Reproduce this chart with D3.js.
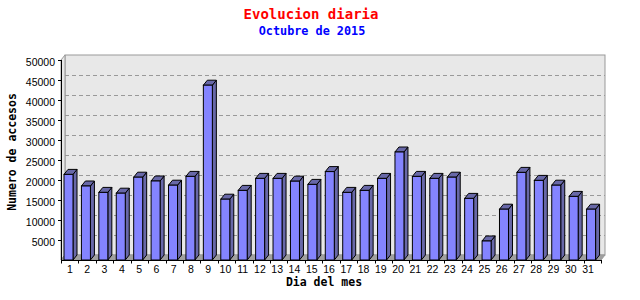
<!DOCTYPE html>
<html><head><meta charset="utf-8">
<script src="https://cdn.jsdelivr.net/npm/d3@7"></script>
<style>body{margin:0;background:#fff}</style>
</head><body>
<svg id="c" width="640" height="300"></svg>
<script>
const days = d3.range(1, 32).map(String);
const visits = [21400,18500,16900,16700,20700,19750,18700,20900,43700,15200,
  17400,20400,20400,19700,18900,22100,16900,17400,20400,27000,
  20900,20400,20700,15400,4750,12700,21900,19900,18700,15900,12700];
const yTicks = [5000,10000,15000,20000,25000,30000,35000,40000,45000,50000];
const title = "Evolucion diaria";
const subtitle = "Octubre de 2015";
const xTitle = "Dia del mes";
const yTitle = "Numero de accesos";

const svg = d3.select("#c");
const L = 61, R = 601, B = 260, T = 60, dx = 4, dy = 5;
const x = d3.scaleBand().domain(days).range([L, R]);
const xl = d3.scalePoint().domain(days).range([70, 588]);
const y = d3.scaleLinear().domain([0, 50000]).range([B, T]);

// titles
svg.append("text").attr("x", 311).attr("y", 19).attr("text-anchor", "middle")
  .attr("font-family", "DejaVu Sans Mono").attr("font-weight", "bold").attr("font-size", 14)
  .attr("fill", "#ff0000").text(title);
svg.append("text").attr("x", 312).attr("y", 35).attr("text-anchor", "middle")
  .attr("font-family", "DejaVu Sans Mono").attr("font-weight", "bold").attr("font-size", 11.8)
  .attr("fill", "#0000ff").text(subtitle);

// back wall
svg.append("rect").attr("x", L + dx).attr("y", T - dy).attr("width", R - L).attr("height", B - T)
  .attr("fill", "#e8e8e8").attr("stroke", "#999").attr("stroke-width", 1);
// left side wall
svg.append("path").attr("d", `M${L},${T}L${L+dx},${T-dy}L${L+dx},${B-dy}L${L},${B}Z`)
  .attr("fill", "#e8e8e8").attr("stroke", "#999");
// floor
svg.append("path").attr("d", `M${L},${B}L${L+dx},${B-dy}L${R+dx},${B-dy}L${R},${B}Z`)
  .attr("fill", "#a0a0a0").attr("stroke", "#999");

// grid lines
svg.append("g").selectAll("line").data(yTicks.filter(t => t < 50000)).join("line")
  .attr("x1", L + dx).attr("x2", R + dx)
  .attr("y1", d => Math.round(y(d) - dy) + 0.5).attr("y2", d => Math.round(y(d) - dy) + 0.5)
  .attr("stroke", "#999").attr("stroke-dasharray", "4,3");

// bars
const fw = 9;
const g = svg.append("g").attr("stroke", "#000").attr("stroke-width", 1).attr("stroke-linejoin", "miter");
days.forEach((d, i) => {
  const x0 = x(d) + 3, x1 = x0 + fw, yt = y(visits[i]);
  g.append("path").attr("d", `M${x1},${yt}L${x1+dx},${yt-dy}L${x1+dx},${B-dy}L${x1},${B}Z`).attr("fill", "#6868a8");
  g.append("path").attr("d", `M${x0},${yt}L${x0+dx},${yt-dy}L${x1+dx},${yt-dy}L${x1},${yt}Z`).attr("fill", "#6868a8");
  g.append("rect").attr("x", x0).attr("y", yt).attr("width", fw).attr("height", B - yt).attr("fill", "#8484ff");
});

// axes lines
svg.append("line").attr("x1", L + 0.5).attr("x2", L + 0.5).attr("y1", T).attr("y2", B + 0.5).attr("stroke", "#000");
svg.append("line").attr("x1", L).attr("x2", R).attr("y1", B + 0.5).attr("y2", B + 0.5).attr("stroke", "#000");
// y ticks
svg.append("g").selectAll("line").data(yTicks).join("line")
  .attr("x1", L - 3).attr("x2", L).attr("y1", d => Math.round(y(d)) + 0.5).attr("y2", d => Math.round(y(d)) + 0.5)
  .attr("stroke", "#000");
svg.append("g").selectAll("text").data(yTicks).join("text")
  .attr("x", 55).attr("y", d => y(d) + 5.5).attr("text-anchor", "end")
  .attr("font-family", "Liberation Sans").attr("font-size", 10.5).attr("fill", "#000").text(d => d);
// x ticks
svg.append("g").selectAll("line").data(days.concat(["end"])).join("line")
  .attr("x1", (d, i) => Math.round(L + i * x.bandwidth()) + 0.5).attr("x2", (d, i) => Math.round(L + i * x.bandwidth()) + 0.5)
  .attr("y1", B).attr("y2", B + 3.5).attr("stroke", "#000");
svg.append("g").selectAll("text").data(days).join("text")
  .attr("x", d => xl(d)).attr("y", 273).attr("text-anchor", "middle")
  .attr("font-family", "Liberation Sans").attr("font-size", 10.5).attr("fill", "#000").text(d => d);

// axis titles
svg.append("text").attr("x", 324).attr("y", 286).attr("text-anchor", "middle")
  .attr("font-family", "DejaVu Sans Mono").attr("font-weight", "bold").attr("font-size", 11.5)
  .attr("fill", "#000").text(xTitle);
svg.append("text").attr("transform", "translate(16,152) rotate(-90)").attr("text-anchor", "middle")
  .attr("font-family", "DejaVu Sans Mono").attr("font-weight", "bold").attr("font-size", 11.5)
  .attr("fill", "#000").text(yTitle);
</script>
</body></html>
